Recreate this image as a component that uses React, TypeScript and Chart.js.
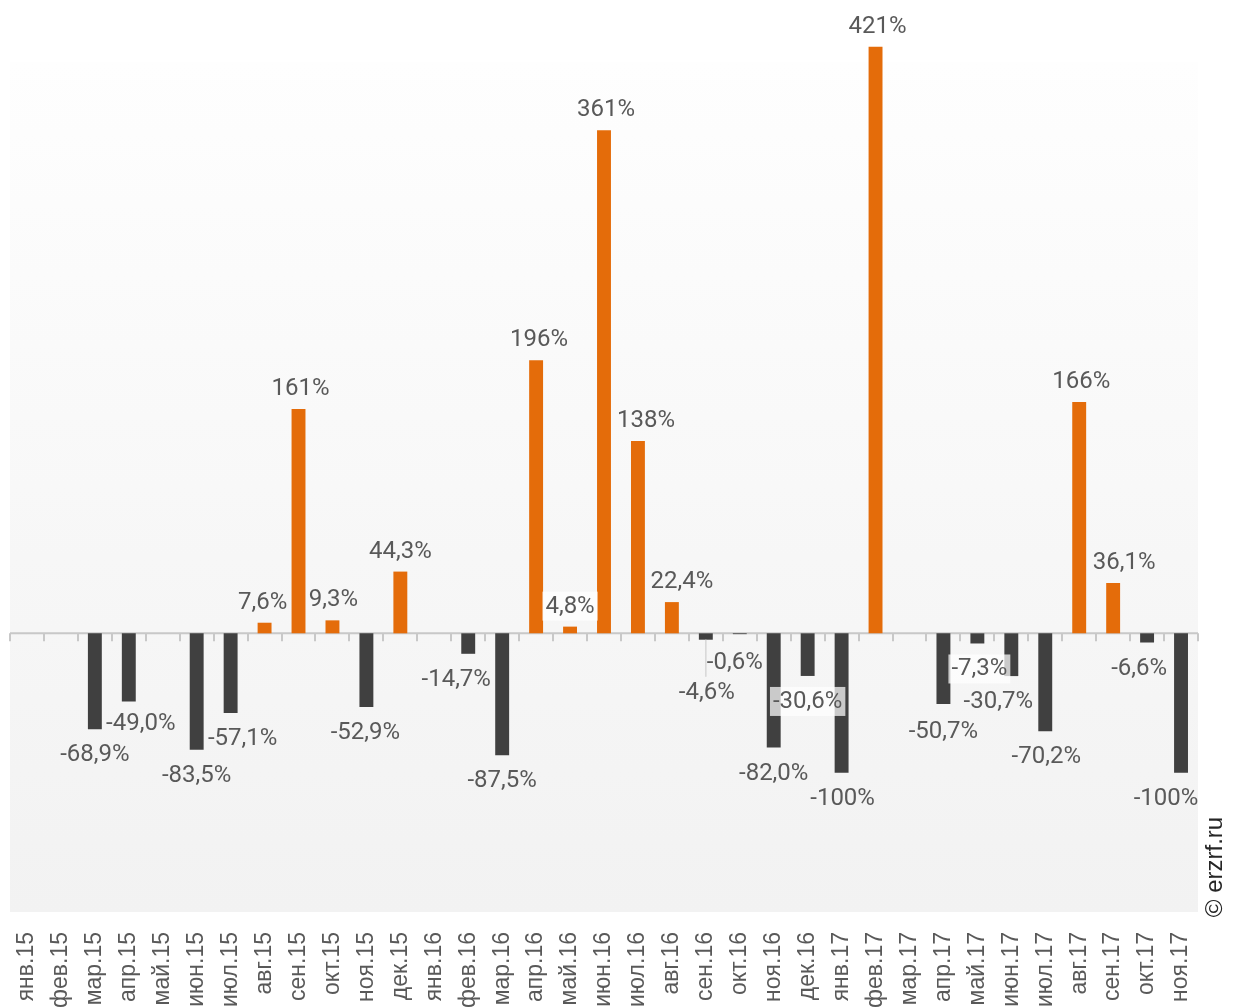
import React, { useEffect, useRef } from "react";
import { Chart, registerables } from "chart.js";

Chart.register(...registerables);

const categories: string[] = [
  "янв.15", "фев.15", "мар.15", "апр.15", "май.15", "июн.15", "июл.15", "авг.15", "сен.15", "окт.15", "ноя.15", "дек.15",
  "янв.16", "фев.16", "мар.16", "апр.16", "май.16", "июн.16", "июл.16", "авг.16", "сен.16", "окт.16", "ноя.16", "дек.16",
  "янв.17", "фев.17", "мар.17", "апр.17", "май.17", "июн.17", "июл.17", "авг.17", "сен.17", "окт.17", "ноя.17",
];

const changePct: (number | null)[] = [
  null, null, -68.9, -49.0, null, -83.5, -57.1, 7.6, 161, 9.3, -52.9, 44.3,
  null, -14.7, -87.5, 196, 4.8, 361, 138, 22.4, -4.6, -0.6, -82.0, -30.6,
  -100, 421, null, -50.7, -7.3, -30.7, -70.2, 166, 36.1, -6.6, -100,
];

// label nudges (px) relative to default position at bar end
const labelDx: number[] = [
  0, 0, 0, 12, 0, 0, 12, -2, 2, 1, -1, 0,
  0, -12, 0, 3, 0, 2, 8, 10, 1, -5, 0, 0,
  1, 2, 0, 0, 2, -13, 1, 2, 11, -8, -15,
];
const labelDy: number[] = [
  0, 0, 0, -4, 0, 0, 0, 0, 0, 0, 0, 0,
  0, 0, 0, 0, 0, 0, 0, 0, 27, 3, 0, 0,
  0, 0, 0, 2, 0, 0, 0, 0, 0, 0, 0,
];
const labelBox: boolean[] = categories.map((_, i) => i === 16 || i === 23 || i === 28);

const POS_COLOR = "#e46c0a";
const NEG_COLOR = "#404040";
const TEXT_COLOR = "#595959";

const fmt = (v: number) =>
  (Math.abs(v) >= 100 ? v.toFixed(0) : v.toFixed(1)).replace(".", ",") + "%";

const decorPlugin = {
  id: "decor",
  beforeDraw(chart: any) {
    const { ctx, chartArea: a } = chart;
    ctx.save();
    const g = ctx.createLinearGradient(0, a.top, 0, a.bottom);
    g.addColorStop(0, "#fefefe");
    g.addColorStop(1, "#f2f2f2");
    ctx.fillStyle = g;
    ctx.fillRect(a.left, a.top, a.right - a.left, a.bottom - a.top);
    ctx.restore();
  },
  beforeDatasetsDraw(chart: any) {
    const { ctx, chartArea: a, scales } = chart;
    const y0 = scales.y.getPixelForValue(0);
    ctx.save();
    ctx.strokeStyle = "#c8c8c8";
    ctx.lineWidth = 2;
    ctx.beginPath();
    ctx.moveTo(a.left, y0);
    ctx.lineTo(a.right, y0);
    for (let i = 0; i <= categories.length; i++) {
      const xb = Math.round(scales.x.getPixelForValue(i - 0.5));
      ctx.moveTo(xb, y0);
      ctx.lineTo(xb, y0 + 8);
    }
    ctx.stroke();
    ctx.restore();
  },
  afterDatasetsDraw(chart: any) {
    const { ctx } = chart;
    const meta = chart.getDatasetMeta(0);
    ctx.save();
    ctx.font = '24px Roboto, "Liberation Sans", sans-serif';
    ctx.textAlign = "center";
    ctx.textBaseline = "middle";
    changePct.forEach((v, i) => {
      if (v === null) return;
      const el = meta.data[i];
      if (!el) return;
      const cx = el.x + labelDx[i];
      const cy = (v >= 0 ? el.y - 21 : el.y + 25) + labelDy[i];
      const text = fmt(v);
      if (labelDy[i] > 15) {
        ctx.strokeStyle = "#d6d6d6";
        ctx.lineWidth = 1.5;
        ctx.beginPath();
        ctx.moveTo(el.x, el.y);
        ctx.lineTo(el.x, cy - 15);
        ctx.stroke();
      }
      if (labelBox[i]) {
        const w = ctx.measureText(text).width + 6;
        ctx.fillStyle = "rgba(255,255,255,0.72)";
        ctx.fillRect(cx - w / 2, cy - 14, w, 29);
      }
      ctx.fillStyle = TEXT_COLOR;
      ctx.fillText(text, cx, cy + 1);
    });
    ctx.restore();
  },
  afterDraw(chart: any) {
    const { ctx } = chart;
    ctx.save();
    ctx.translate(1215, 867);
    ctx.rotate(-Math.PI / 2);
    ctx.font = '24px "Liberation Sans", Arial, sans-serif';
    ctx.fillStyle = "#262626";
    ctx.textAlign = "center";
    ctx.textBaseline = "middle";
    ctx.fillText("© erzrf.ru", 0, 0);
    ctx.restore();
  },
};

export default function App() {
  const ref = useRef<HTMLCanvasElement | null>(null);
  useEffect(() => {
    if (!ref.current) return;
    const chart = new Chart(ref.current, {
      type: "bar",
      data: {
        labels: categories,
        datasets: [
          {
            data: changePct as any,
            backgroundColor: changePct.map((v) => ((v ?? 0) >= 0 ? POS_COLOR : NEG_COLOR)),
            borderWidth: 0,
            barPercentage: 0.41,
            categoryPercentage: 1,
            clip: false as any,
          },
        ],
      },
      options: {
        responsive: false,
        animation: false,
        devicePixelRatio: 1,
        layout: { padding: { left: 10, right: 38, top: 62, bottom: 0 } },
        plugins: { legend: { display: false }, tooltip: { enabled: false } },
        scales: {
          x: {
            grid: { display: false, drawTicks: false },
            border: { display: false },
            ticks: {
              autoSkip: false,
              minRotation: 90,
              maxRotation: 90,
              padding: 20,
              color: TEXT_COLOR,
              font: { family: '"Liberation Sans", Arial, sans-serif', size: 23 },
            },
            afterFit: (scale: any) => {
              scale.height = 96;
            },
          },
          y: {
            display: false,
            min: -200,
            max: 410,
          },
        },
      },
      plugins: [decorPlugin],
    });
    return () => chart.destroy();
  }, []);
  return (
    <div style={{ position: "fixed", left: 0, top: 0, width: 1236, height: 1008, background: "#ffffff" }}>
      <canvas ref={ref} width={1236} height={1008} style={{ display: "block" }} />
    </div>
  );
}
